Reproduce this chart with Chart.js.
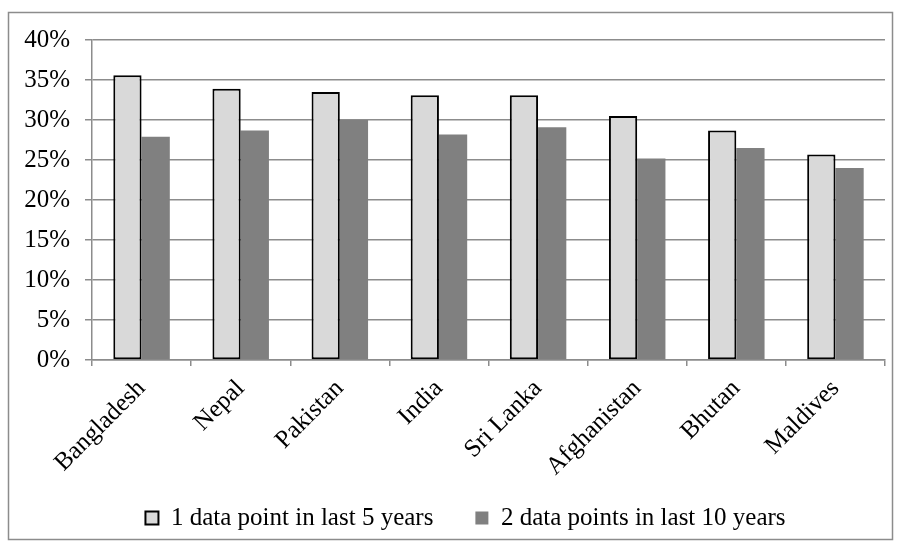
<!DOCTYPE html>
<html>
<head>
<meta charset="utf-8">
<script src="https://cdn.jsdelivr.net/npm/chart.js@4/dist/chart.umd.min.js"></script>
<style>
  html, body { margin: 0; padding: 0; background: #ffffff; }
  #wrap { width: 899px; height: 548px; position: relative; }
  #probe { position: absolute; left: -1000px; top: 0; font-family: 'Liberation Serif'; font-size: 25px; }
</style>
</head>
<body>
<div id="probe">Bangladesh 40%</div>
<div id="wrap"><canvas id="c" width="899" height="548"></canvas></div>
<script>
const categories = ['Bangladesh', 'Nepal', 'Pakistan', 'India', 'Sri Lanka', 'Afghanistan', 'Bhutan', 'Maldives'];
const series1Name = '1 data point in last 5 years';
const series1Values = [35.6, 33.9, 33.5, 33.1, 33.1, 30.5, 28.7, 25.7];
const series2Name = '2 data points in last 10 years';
const series2Values = [27.9, 28.7, 30.0, 28.2, 29.1, 25.2, 26.5, 24.0];
const yMin = 0, yMax = 40, yStep = 5;

const FONT = "'Liberation Serif', 'Times New Roman', serif";

const outerBorder = {
  id: 'outerBorder',
  beforeDraw(chart) {
    const ctx = chart.ctx;
    ctx.save();
    ctx.fillStyle = '#ffffff';
    ctx.fillRect(0, 0, chart.width, chart.height);
    ctx.strokeStyle = '#8c8c8c';
    ctx.lineWidth = 1.5;
    ctx.strokeRect(8.5, 12.5, 884, 527);
    ctx.restore();
  }
};

function build() {
  new Chart(document.getElementById('c'), {
    type: 'bar',
    data: {
      labels: categories,
      datasets: [
        {
          label: series1Name,
          data: series1Values,
          backgroundColor: '#d9d9d9',
          borderColor: '#000000',
          borderWidth: 2,
          borderSkipped: false,
          categoryPercentage: 0.57,
          barPercentage: 1.0
        },
        {
          label: series2Name,
          data: series2Values,
          backgroundColor: '#808080',
          borderColor: '#808080',
          borderWidth: 0,
          categoryPercentage: 0.57,
          barPercentage: 1.0
        }
      ]
    },
    options: {
      responsive: false,
      animation: false,
      devicePixelRatio: 1,
      layout: { padding: { top: 40, left: 46, right: 14, bottom: 7.5 } },
      plugins: {
        legend: {
          position: 'bottom',
          align: 'center',
          labels: {
            font: { family: FONT, size: 25 },
            color: '#000000',
            boxWidth: 13,
            boxHeight: 13,
            padding: 42
          }
        },
        tooltip: { enabled: false },
        title: { display: false }
      },
      scales: {
        x: {
          afterFit(scale) {
            scale.height = 103.5;
            scale._computeLabelArea = () => undefined;
          },
          grid: {
            display: true,
            drawOnChartArea: false,
            drawTicks: true,
            tickLength: 6,
            color: '#8c8c8c',
            lineWidth: 1.5,
            offset: true
          },
          border: { display: true, color: '#8c8c8c', width: 1.5 },
          ticks: {
            font: { family: FONT, size: 25 },
            color: '#000000',
            minRotation: 45,
            maxRotation: 45,
            padding: 8,
            autoSkip: false
          }
        },
        y: {
          min: yMin,
          max: yMax,
          afterFit(scale) {
            scale.width = 46;
            scale._computeLabelArea = () => undefined;
          },
          grid: {
            color: '#8c8c8c',
            lineWidth: 1.5,
            tickLength: 7,
            drawTicks: true
          },
          border: { display: true, color: '#8c8c8c', width: 1.5 },
          ticks: {
            stepSize: yStep,
            font: { family: FONT, size: 25 },
            color: '#000000',
            padding: 15,
            callback: (v) => v + '%'
          }
        }
      }
    },
    plugins: [outerBorder]
  });
}

if (document.fonts && document.fonts.load) {
  document.fonts.load("25px 'Liberation Serif'").then(build, build);
} else {
  build();
}
</script>
</body>
</html>
